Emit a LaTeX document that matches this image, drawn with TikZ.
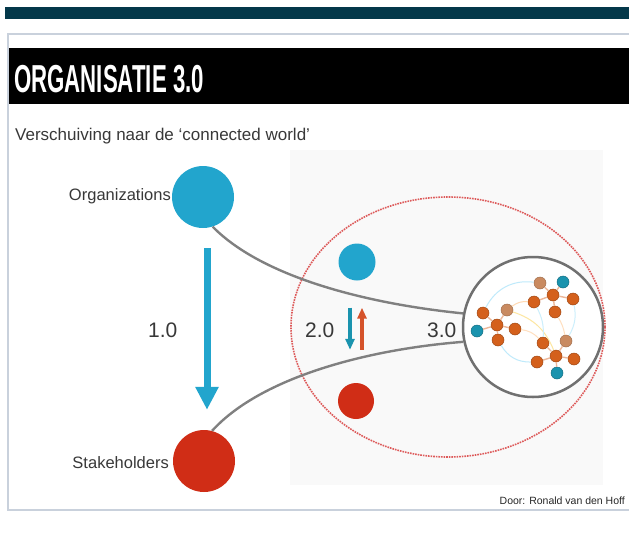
\documentclass[tikz,border=0pt]{standalone}
\usepackage{fontspec}
\setmainfont{Liberation Sans}
\usetikzlibrary{arrows.meta, shapes.geometric}

\definecolor{topbar}{HTML}{04384A}
\definecolor{framegray}{HTML}{C9D1DC}
\definecolor{orgblue}{HTML}{22A5CD}
\definecolor{stakered}{HTML}{D02D16}
\definecolor{arrowred}{HTML}{D5532B}
\definecolor{netorange}{HTML}{D4601C}
\definecolor{netfaded}{HTML}{C98A60}
\definecolor{netteal}{HTML}{1A93AE}
\definecolor{linkgray}{HTML}{808080}
\definecolor{ringgray}{HTML}{707070}
\definecolor{dotred}{HTML}{DD5A5A}

\tikzset{
  bubble/.style={circle, inner sep=0pt, minimum size=#1},
  txt/.style={inner sep=0pt, text=black!78},
  link/.style={draw=linkgray, line width=2.4pt},
  netnode/.style={circle, inner sep=0pt, minimum size=12pt, fill=netorange, draw=netorange!75!black, line width=0.5pt},
  faded/.style={fill=netfaded, draw=netfaded!80!black},
  teal/.style={fill=netteal, draw=netteal!75!black},
  spoke/.style={draw=netorange!45, line width=1.4pt},
  strand/.style={line width=1pt}
}

\begin{document}
\begin{tikzpicture}[x=1pt, y=-1pt]
\useasboundingbox (0,0) rectangle (629,533);

% Slide
\fill[topbar] (5,7) rectangle (629,19);
\draw[framegray, line width=2pt] (640,34) -- (8,34) -- (8,510) -- (640,510);
\fill[black] (9,48) rectangle (629,104);
\fill[black!2.5] (290,150) rectangle (603,485);

\node[txt, anchor=base west, text=white, font=\fontsize{39}{40}\selectfont\bfseries] (title) at (14,92) {\scalebox{0.57}[1]{ORGANISATIE 3.0}};
\node[txt, anchor=base west, font=\fontsize{17}{18}\selectfont] (subtitle) at (15,140) {Verschuiving naar de `connected world'};

% Define nodes
\path
(203,197) node[bubble=62pt, fill=orgblue] (org) {}
(204,461) node[bubble=62pt, fill=stakered] (stake) {}
(357,262) node[bubble=37pt, fill=orgblue] (org2) {}
(356,401) node[bubble=36pt, fill=stakered] (stake2) {}
(448,327) node[ellipse, inner sep=0pt, minimum width=314pt, minimum height=260pt, draw=dotred, densely dotted, line width=1.6pt] (zone) {}
(533,327) node[bubble=140pt, draw=ringgray, line width=2.5pt, fill=white] (net) {}
;

% Labels
\begin{scope}[font=\fontsize{16.5}{18}\selectfont]
\node[txt, anchor=base east] (orglabel) at (171,200) {Organizations};
\node[txt, anchor=base east] (stakelabel) at (169,468) {Stakeholders};
\end{scope}
\begin{scope}[font=\fontsize{21}{22}\selectfont]
\node[txt, anchor=base west] (v1) at (148,337) {1.0};
\node[txt, anchor=base west] (v2) at (305,337) {2.0};
\node[txt, anchor=base west] (v3) at (427,337) {3.0};
\end{scope}
\node[txt, anchor=base east, text=black!85, font=\fontsize{10.5}{12}\selectfont] (credit) at (625,504) {Door: Ronald van den Hoff};

% Arrows
\draw[orgblue, line width=7pt, shorten <=20pt, shorten >=20pt, -{Triangle[width=22pt, length=23pt]}]
  ([xshift=4pt]org.south) -- ([xshift=3pt]stake.north);
\draw[netteal, line width=3.5pt, shorten <=27pt, shorten >=33pt, -{Triangle[width=9pt, length=11pt]}]
  ([xshift=-7pt]org2.south) -- ([xshift=-6pt]stake2.north);
\draw[arrowred, line width=3.5pt, shorten <=33pt, shorten >=27pt, -{Triangle[width=9pt, length=11pt]}]
  ([xshift=6pt]stake2.north) -- ([xshift=5pt]org2.south);

% Connections
\draw[link] (org.-72) .. controls (260,275) and (360,303) .. (net.169);
\draw[link] (stake.75) .. controls (258,380) and (360,350) .. (net.192);

% Network
\path
(563,282) node[netnode, teal] (t1) {}
(540,283) node[netnode, faded] (a1) {}
(553,295) node[netnode] (a2) {}
(534,302) node[netnode] (a3) {}
(573,299) node[netnode] (a4) {}
(555,312) node[netnode] (a5) {}
(483,313) node[netnode] (b1) {}
(507,310) node[netnode, faded] (b2) {}
(497,325) node[netnode] (b3) {}
(515,329) node[netnode] (b4) {}
(477,331) node[netnode, teal] (t2) {}
(498,340) node[netnode] (b5) {}
(543,343) node[netnode] (c1) {}
(566,341) node[netnode, faded] (c2) {}
(556,356) node[netnode] (c3) {}
(537,362) node[netnode] (c4) {}
(574,359) node[netnode] (c5) {}
(557,373) node[netnode, teal] (t3) {}
;

\draw[spoke] (a2) -- (a1) (a2) -- (a3) (a2) -- (a4) (a2) -- (a5) (a2) -- (t1);
\draw[spoke] (b3) -- (b1) (b3) -- (b2) (b3) -- (b4) (b3) -- (b5) (b3) -- (t2);
\draw[spoke] (c3) -- (c1) (c3) -- (c2) (c3) -- (c4) (c3) -- (c5) (c3) -- (t3);

\draw[strand, cyan!25] (b1) to[bend left=35] (a1);
\draw[strand, orange!30] (b2) to[bend left=20] (a3);
\draw[strand, yellow!50!orange!35] (b2) to[bend left=25] (c3);
\draw[strand, cyan!20] (a3) to[bend left=15] (c1);
\draw[strand, orange!25] (a5) to[bend left=10] (c2);
\draw[strand, cyan!25] (b5) to[bend right=30] (c4);
\draw[strand, orange!25] (b4) to[bend left=20] (c1);
\draw[strand, cyan!20] (a4) to[bend left=20] (c2);

\end{tikzpicture}
\end{document}
